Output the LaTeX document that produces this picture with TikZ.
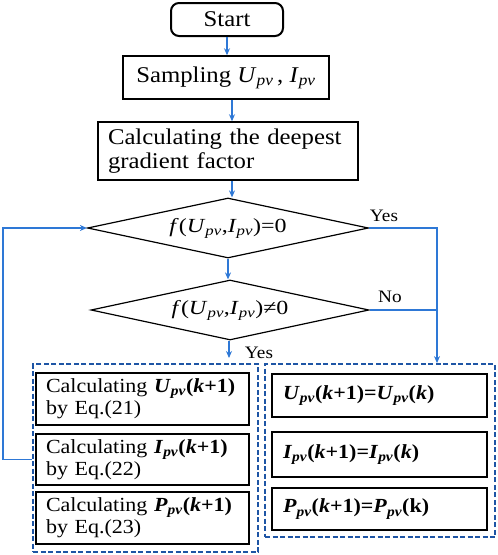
\documentclass[tikz,border=0pt]{standalone}
\usepackage{fontspec}
\setmainfont{Liberation Serif}[FakeStretch=1.1]
\newfontfamily\diafont{Liberation Serif}[FakeStretch=1.2]
\usetikzlibrary{shapes.geometric,arrows.meta}
\definecolor{flowblue}{RGB}{46,120,214}
\definecolor{grpblue}{RGB}{30,85,165}
\newcommand{\szbig}{\fontsize{22.5}{24}\selectfont}
\newcommand{\szdia}{\diafont\fontsize{20}{24}\selectfont}
\newcommand{\szbox}{\fontsize{20}{22}\selectfont}
\newcommand{\szlab}{\fontsize{17.5}{20}\selectfont}
\newcommand{\pv}{\textsubscript{\textit{pv}}}
\newcommand{\bpv}{\textsubscript{\textbf{\textit{pv}}}}
\begin{document}
\begin{tikzpicture}[x=1pt,y=-1pt,
  procbox/.style={draw=black, line width=1.5pt, inner sep=0pt, minimum width=#1},
  leftbox/.style={draw=black, line width=1.5pt, inner xsep=10pt, inner ysep=0pt, text width=193pt, align=left, minimum width=213pt, font=\szbox},
  rightbox/.style={draw=black, line width=1.5pt, inner xsep=11pt, inner ysep=0pt, text width=193pt, align=left, minimum width=215pt, font=\szbox\bfseries},
  decision/.style={draw=black, line width=1.2pt, diamond, aspect=4.7, inner sep=0pt, font=\szdia},
  flow/.style={draw=flowblue, line width=1.1pt, -{Stealth[length=7pt,width=6pt]}},
  plain/.style={draw=flowblue, line width=1.1pt},
  group/.style={draw=grpblue, line width=1.8pt, dash pattern=on 5pt off 2.5pt, inner sep=0pt},
  lab/.style={font=\szlab, inner sep=0pt}]
\useasboundingbox (0,0) rectangle (498,555);
% top chain
\node[procbox=112pt, minimum height=33pt, rounded corners=8pt, line width=2pt, font=\szbig] (start) at (227,19.5) {Start};
\node[procbox=206pt, minimum height=43pt, font=\szbig] (samp) at (226,77.5) {Sampling \textit{U}\pv\,, \textit{I}\pv};
\node[procbox=260pt, minimum height=58pt, inner xsep=10pt, text width=240pt, align=left, font=\szbig] (calc) at (228,151) {Calculating the deepest\\gradient factor};
\node[decision, minimum width=281pt, minimum height=60pt] (d1) at (228,228) {\textit{f}(\textit{U}\pv,\textit{I}\pv)=0};
\node[decision, minimum width=278pt, minimum height=60pt] (d2) at (230,310) {\textit{f}(\textit{U}\pv,\textit{I}\pv)≠0};
% groups
\node[group, minimum width=225pt, minimum height=188pt] (lg) at (145.5,458) {};
\node[group, minimum width=230pt, minimum height=173pt] (rg) at (380,450.5) {};
% left boxes
\node[leftbox, minimum height=52pt] (lb1) at (142.5,399) {\mbox{Calculating \textbf{\textit{U}}\bpv\textbf{(\textit{k}+1)}}\\by Eq.(21)};
\node[leftbox, minimum height=51pt] (lb2) at (142.5,459.5) {\mbox{Calculating \textbf{\textit{I}}\bpv\textbf{(\textit{k}+1)}}\\by Eq.(22)};
\node[leftbox, minimum height=52pt] (lb3) at (142.5,518) {\mbox{Calculating \textbf{\textit{P}}\bpv\textbf{(\textit{k}+1)}}\\by Eq.(23)};
% right boxes
\node[rightbox, minimum height=43pt] (rb1) at (379.5,395.5) {\textit{U}\bpv(\textit{k}+1)=\textit{U}\bpv(\textit{k})};
\node[rightbox, minimum height=45pt] (rb2) at (379.5,454.5) {\textit{I}\bpv(\textit{k}+1)=\textit{I}\bpv(\textit{k})};
\node[rightbox, minimum height=42pt] (rb3) at (379.5,509) {\textit{P}\bpv(\textit{k}+1)=\textit{P}\bpv(k)};
% connectors
\draw[flow] (start.south) -- (samp.north -| start.south);
\draw[flow] (samp.south -| 232,0) -- (calc.north -| 232,0);
\draw[flow] (calc.south -| 232,0) -- (d1.north -| 232,0);
\draw[flow] (d1.south) -- (d2.north -| d1.south);
\coordinate (dn) at (229,358);
\draw[flow] (d2.south -| dn) -- (dn);
\coordinate (rj) at (437,228);
\draw[flow] (d1.east) -- (rj) -- (rj |- rg.north);
\draw[plain] (d2.east) -- (rj |- d2.east);
\coordinate (fb) at (3,228);
\draw[flow] (lg.west |- lb2.center) -| (fb) -- (d1.west);
% labels
\node[lab] (yes1) at (384,216) {Yes};
\node[lab] (no1) at (390,297) {No};
\node[lab] (yes2) at (259,353) {Yes};
\end{tikzpicture}
\end{document}
